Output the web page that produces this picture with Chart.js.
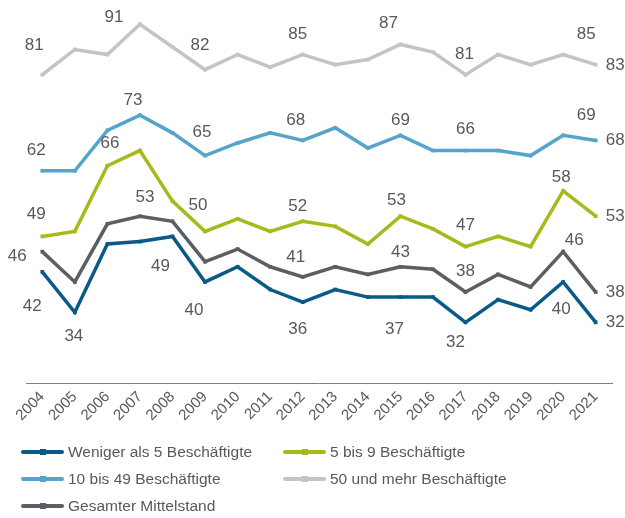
<!DOCTYPE html>
<html>
<head>
<meta charset="utf-8">
<script src="https://cdn.jsdelivr.net/npm/chart.js@4/dist/chart.umd.min.js"></script>
<style>
  html, body { margin: 0; padding: 0; background: #ffffff; }
  #wrap { position: relative; width: 625px; height: 518px; overflow: hidden; }
  canvas { position: absolute; left: 0; top: 0; }
  .lg { position: absolute; height: 20px; font: 15.5px "Liberation Sans", Arial, sans-serif; color: #595959; white-space: nowrap; }
  .lg .sw { position: absolute; left: 0; top: 8px; width: 43px; height: 4px; border-radius: 2px; }
  .lg .mk { position: absolute; left: 19px; top: 7px; width: 6px; height: 6px; }
  .lg .tx { position: absolute; left: 47px; top: 1px; line-height: 18px; }
</style>
</head>
<body>
<div id="wrap">
  <canvas id="c" width="625" height="518"></canvas>
  <div id="legend"></div>
</div>
<script>
// ---------- data ----------
const years = ["2004","2005","2006","2007","2008","2009","2010","2011","2012","2013","2014","2015","2016","2017","2018","2019","2020","2021"];
const seriesNames = ["Weniger als 5 Beschäftigte","5 bis 9 Beschäftigte","10 bis 49 Beschäftigte","50 und mehr Beschäftigte","Gesamter Mittelstand"];
const weniger5   = [42, 34, 47.5, 48, 49, 40, 43, 38.5, 36, 38.5, 37, 37, 37, 32, 36.5, 34.5, 40, 32];
const bis9       = [49, 50, 63, 66, 56, 50, 52.5, 50, 52, 51, 47.5, 53, 50.5, 47, 49, 47, 58, 53];
const bis49      = [62, 62, 70, 73, 69.5, 65, 67.5, 69.5, 68, 70.5, 66.5, 69, 66, 66, 66, 65, 69, 68];
const mehr50     = [81, 86, 85, 91, 86.5, 82, 85, 82.5, 85, 83, 84, 87, 85.5, 81, 85, 83, 85, 83];
const gesamt     = [46, 40, 51.5, 53, 52, 44, 46.5, 43, 41, 43, 41.5, 43, 42.5, 38, 41.5, 39, 46, 38];
// which points carry a value label
const labeledWeniger5 = [0, 1, 4, 5, 8, 11, 13, 16, 17];
const labeledBis9     = [0, 3, 5, 8, 11, 13, 16, 17];
const labeledBis49    = [0, 3, 5, 8, 11, 13, 16, 17];
const labeledMehr50   = [0, 3, 5, 8, 11, 13, 16, 17];
const labeledGesamt   = [0, 3, 8, 11, 13, 16, 17];

// ---------- styles ----------
const colors = ["#0a5a88", "#a7b91b", "#56a4cc", "#c3c4c6", "#5a5f65"];
const textColor = "#595959";
// label offsets relative to the point (style only): [dx, dy, align]
const labelOffsets = [
  {0:[-10,34],1:[-1,24],4:[-12,30],5:[-11,28],8:[-5,27],11:[-6,32],13:[-10,20],16:[-2,27],17:[10,0,'left']},
  {0:[-6,-22],3:[-30,-7],5:[-7,-26],8:[-5,-15],11:[-4,-16],13:[0,-21],16:[-2,-14],17:[10,0,'left']},
  {0:[-6,-20],3:[-7,-15],5:[-3,-23],8:[-7,-20],11:[0,-15],13:[0,-21],16:[23,-20],17:[10,0,'left']},
  {0:[-8,-29],3:[-26,-7],5:[-5,-24],8:[-5,-20],11:[-12,-21],13:[-1,-20],16:[23,-20],17:[10,1,'left']},
  {0:[-25,5],3:[5,-19],8:[-7,-20],11:[0,-14],13:[0,-21],16:[11,-11],17:[10,0,'left']}
];

const seriesData = [weniger5, bis9, bis49, mehr50, gesamt];
const labeledIdx = [labeledWeniger5, labeledBis9, labeledBis49, labeledMehr50, labeledGesamt];

Chart.defaults.font.family = '"Liberation Sans", Arial, sans-serif';

// draw order: bottom first
const order = [3, 2, 1, 4, 0];
const drawLabeled = order.map(k => labeledIdx[k]);
const drawOffsets = order.map(k => labelOffsets[k]);

const valueLabels = {
  id: 'valueLabels',
  afterDatasetsDraw(chart) {
    const ctx = chart.ctx;
    ctx.save();
    ctx.font = '17px "Liberation Sans", Arial, sans-serif';
    ctx.fillStyle = textColor;
    ctx.textBaseline = 'middle';
    chart.data.datasets.forEach((ds, di) => {
      const meta = chart.getDatasetMeta(di);
      drawLabeled[di].forEach(i => {
        const pt = meta.data[i];
        const off = drawOffsets[di][i] || [0, -20];
        ctx.textAlign = off[2] || 'center';
        ctx.fillText(String(Math.round(ds.data[i])), pt.x + off[0], pt.y + off[1]);
      });
    });
    ctx.restore();
  }
};

const datasets = order.map(k => ({
  label: seriesNames[k],
  data: seriesData[k],
  borderColor: colors[k],
  backgroundColor: colors[k],
  borderWidth: 3.5,
  pointStyle: 'rect',
  pointRadius: 2.6,
  pointBorderWidth: 0,
  pointBackgroundColor: colors[k],
  tension: 0,
  clip: false
}));

new Chart(document.getElementById('c'), {
  type: 'line',
  data: { labels: years, datasets },
  options: {
    responsive: false,
    animation: false,
    devicePixelRatio: 1,
    layout: { padding: { left: 26, right: 13, top: 2, bottom: 85 } },
    plugins: { legend: { display: false }, tooltip: { enabled: false } },
    scales: {
      x: {
        type: 'category',
        offset: true,
        grid: { display: false, drawTicks: false },
        border: { display: true, color: '#7f7f7f', width: 1 },
        ticks: { color: textColor, font: { size: 15 }, minRotation: 45, maxRotation: 45, padding: 5, autoSkip: false },
        afterFit(scale) { scale.height = 50; }
      },
      y: { display: false, min: 20, max: 95 }
    }
  },
  plugins: [valueLabels]
});

// ---------- HTML legend ----------
const legendPos = [[21, 442], [283, 442], [21, 469], [283, 469], [21, 496]];
const legendEl = document.getElementById('legend');
seriesNames.forEach((name, k) => {
  const d = document.createElement('div');
  d.className = 'lg';
  d.style.left = legendPos[k][0] + 'px';
  d.style.top = legendPos[k][1] + 'px';
  d.innerHTML = '<span class="sw" style="background:' + colors[k] + '"></span>' +
                '<span class="mk" style="background:' + colors[k] + '"></span>' +
                '<span class="tx">' + name + '</span>';
  legendEl.appendChild(d);
});
</script>
</body>
</html>
